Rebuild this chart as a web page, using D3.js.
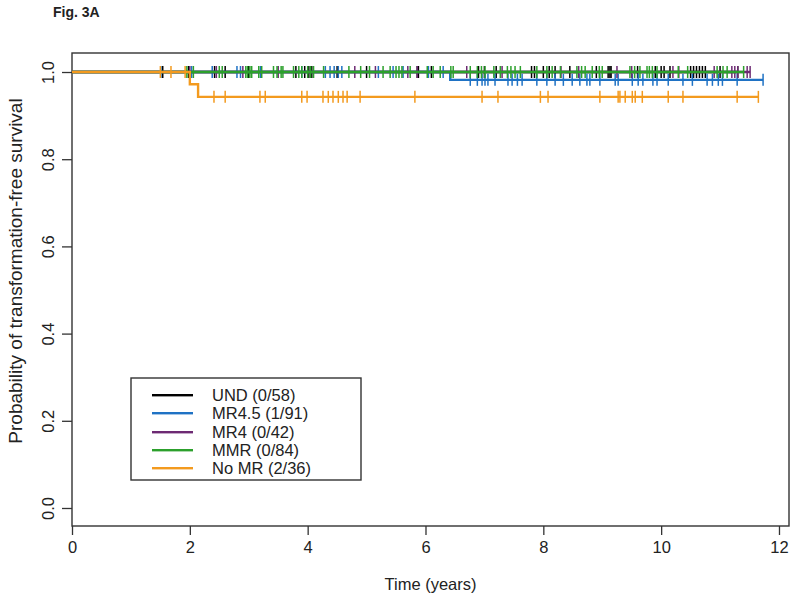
<!DOCTYPE html>
<html>
<head>
  <title>Fig. 3A</title>
  <script src="https://d3js.org/d3.v7.min.js"></script>
  <style>
    body { margin: 0; background: #fff; }
    text { font-family: "Liberation Sans", Arial, sans-serif; fill: #222; }
  </style>
</head>
<body>
  <div id="chart"></div>
  <script>
    // groups, legend labels, colours
    const groups = ["UND", "MR4.5", "MR4", "MMR", "No MR"];
    const legendLabels = ["UND (0/58)", "MR4.5 (1/91)", "MR4 (0/42)", "MMR (0/84)", "No MR (2/36)"];
    const colors = ["#000000", "#1f72c4", "#6d2a73", "#2ca02c", "#f39a1e"];

    // events: times and survival after each step
    const undEvents = [], undSurv = [];
    const mr45Events = [6.42], mr45Surv = [0.982];
    const mr4Events = [], mr4Surv = [];
    const mmrEvents = [], mmrSurv = [];
    const nomrEvents = [2.0, 2.14], nomrSurv = [0.972, 0.943];

    // censoring times (years)
    const undCensor = [1.54, 1.98, 2.42, 2.6, 3.0, 3.8, 3.95, 4.02, 4.07, 4.5, 5.0, 5.86, 5.88, 6.1, 6.9, 7.0,
      7.2, 7.8, 7.85, 8.0, 8.1, 8.2, 8.45, 8.9, 9.1, 9.13, 9.15, 9.6, 9.9, 10.0, 10.05, 10.15, 10.5, 10.55,
      10.6, 10.65, 10.7, 10.75, 11.0, 11.3];
    const mr45Censor = [1.51, 2.03, 2.38, 2.8, 2.86, 3.2, 3.9, 4.3, 4.38, 4.45, 4.52, 4.58, 5.2, 5.45, 5.62,
      6.05, 6.3, 6.76, 6.88, 6.96, 7.01, 7.06, 7.18, 7.4, 7.47, 7.56, 7.64, 7.89, 8.06, 8.2, 8.34, 8.49, 8.62,
      8.74, 8.79, 8.96, 9.22, 9.27, 9.51, 9.61, 9.69, 9.86, 9.93, 10.12, 10.37, 10.53, 10.78, 10.87, 10.97,
      11.04, 11.29, 11.73];
    const mr4Censor = [2.0, 2.45, 2.9, 3.5, 4.8, 5.15, 5.7, 5.86, 6.7, 7.3, 8.3, 8.6, 9.25, 9.5, 10.2, 10.3,
      10.9, 11.2, 11.25, 11.3, 11.46, 11.51];
    const mmrCensor = [1.95, 2.06, 2.5, 2.55, 2.95, 2.98, 3.02, 3.05, 3.17, 3.22, 3.42, 3.48, 3.55, 3.58, 3.76,
      3.85, 3.9, 4.0, 4.05, 4.1, 4.27, 4.7, 4.9, 5.05, 5.28, 5.4, 5.5, 5.55, 5.6, 5.74, 6.03, 6.13, 6.25, 6.43,
      6.47, 6.76, 6.88, 6.95, 7.01, 7.16, 7.27, 7.39, 7.45, 7.52, 7.61, 7.89, 8.06, 8.15, 8.29, 8.57, 8.65,
      8.71, 8.83, 8.95, 9.0, 9.47, 9.55, 9.64, 9.76, 9.8, 9.85, 9.93, 10.29, 10.45, 10.95, 11.05, 11.12, 11.4];
    const nomrCensor = [1.5, 1.68, 1.92, 2.41, 2.6, 3.19, 3.28, 3.9, 3.99, 4.26, 4.35, 4.43, 4.52, 4.6, 4.67,
      4.89, 5.82, 6.96, 7.23, 7.95, 8.08, 8.96, 9.27, 9.3, 9.39, 9.51, 9.56, 9.68, 10.12, 10.37, 11.29, 11.65];

    const xTicks = [0, 2, 4, 6, 8, 10, 12];
    const yTicks = [0, 0.2, 0.4, 0.6, 0.8, 1.0];

    const series = [
      {events: undEvents, surv: undSurv, censor: undCensor},
      {events: mr45Events, surv: mr45Surv, censor: mr45Censor},
      {events: mr4Events, surv: mr4Surv, censor: mr4Censor},
      {events: mmrEvents, surv: mmrSurv, censor: mmrCensor},
      {events: nomrEvents, surv: nomrSurv, censor: nomrCensor}
    ];

    const W = 800, H = 603;
    const box = {left: 72, right: 789, top: 53, bottom: 526};

    const svg = d3.select("#chart").append("svg")
      .attr("width", W).attr("height", H);

    const x = d3.scaleLinear().domain([0, 12.17]).range([box.left, box.right]);
    const y = d3.scaleLinear().domain([-0.0413, 1.0436]).range([box.bottom, box.top]);

    // title
    svg.append("text").attr("x", 53).attr("y", 17)
      .style("font-size", "14px").style("font-weight", "bold").text("Fig. 3A");

    // x axis
    const xAxis = svg.append("g")
      .attr("transform", `translate(0,${box.bottom})`)
      .call(d3.axisBottom(x).tickValues(xTicks).tickFormat(d3.format("d")).tickSize(9).tickPadding(6));
    xAxis.select(".domain").remove();
    xAxis.selectAll("line").attr("stroke", "#333").attr("stroke-width", 1.3);
    xAxis.selectAll("text").style("font-size", "16.5px").style("font-family", "Liberation Sans, Arial, sans-serif")
      .attr("fill", "#222");

    // y axis
    const yAxis = svg.append("g")
      .attr("transform", `translate(${box.left},0)`)
      .call(d3.axisLeft(y).tickValues(yTicks).tickFormat(d3.format(".1f")).tickSize(10));
    yAxis.select(".domain").remove();
    yAxis.selectAll("line").attr("stroke", "#333").attr("stroke-width", 1.3);
    yAxis.selectAll("text")
      .attr("x", null).attr("dy", null)
      .attr("text-anchor", "middle")
      .attr("transform", "translate(-18,0) rotate(-90)")
      .style("font-size", "16.5px").style("font-family", "Liberation Sans, Arial, sans-serif")
      .attr("fill", "#222");

    // plot box
    svg.append("rect")
      .attr("x", box.left).attr("y", box.top)
      .attr("width", box.right - box.left).attr("height", box.bottom - box.top)
      .attr("fill", "none").attr("stroke", "#333").attr("stroke-width", 1.4);

    // axis titles
    svg.append("text").attr("x", (box.left + box.right) / 2).attr("y", 590)
      .attr("text-anchor", "middle").style("font-size", "16.5px").text("Time (years)");
    svg.append("text")
      .attr("transform", "translate(22,271) rotate(-90)")
      .attr("text-anchor", "middle").style("font-size", "19px")
      .text("Probability of transformation-free survival");

    // KM step curves
    const line = d3.line().x(d => x(d[0])).y(d => y(d[1]));
    series.forEach((s, i) => {
      const end = d3.max(s.censor.concat(s.events));
      const pts = [[0, 1]];
      let cur = 1;
      s.events.forEach((t, j) => {
        pts.push([t, cur]);
        cur = s.surv[j];
        pts.push([t, cur]);
      });
      pts.push([end, cur]);
      const survAt = t => {
        let v = 1;
        s.events.forEach((e, j) => { if (e <= t) v = s.surv[j]; });
        return v;
      };
      const g = svg.append("g");
      g.append("path").attr("d", line(pts))
        .attr("fill", "none").attr("stroke", colors[i]).attr("stroke-width", 2.4);
      g.selectAll("line.cens").data(s.censor).enter().append("line")
        .attr("class", "cens")
        .attr("x1", d => x(d)).attr("x2", d => x(d))
        .attr("y1", d => y(survAt(d)) - 6).attr("y2", d => y(survAt(d)) + 6)
        .attr("stroke", colors[i]).attr("stroke-width", 1.5);
    });

    // legend
    const leg = svg.append("g");
    leg.append("rect").attr("x", 131).attr("y", 378).attr("width", 230).attr("height", 102)
      .attr("fill", "#fff").attr("stroke", "#333").attr("stroke-width", 1.4);
    legendLabels.forEach((lab, i) => {
      const ly = Math.round(395 + i * 18.3);
      leg.append("rect").attr("x", 152).attr("y", ly - 1).attr("width", 41).attr("height", 2.4)
        .attr("fill", colors[i]);
      leg.append("text").attr("x", 212).attr("y", ly + 6)
        .style("font-size", "16.5px").text(lab);
    });
  </script>
</body>
</html>
